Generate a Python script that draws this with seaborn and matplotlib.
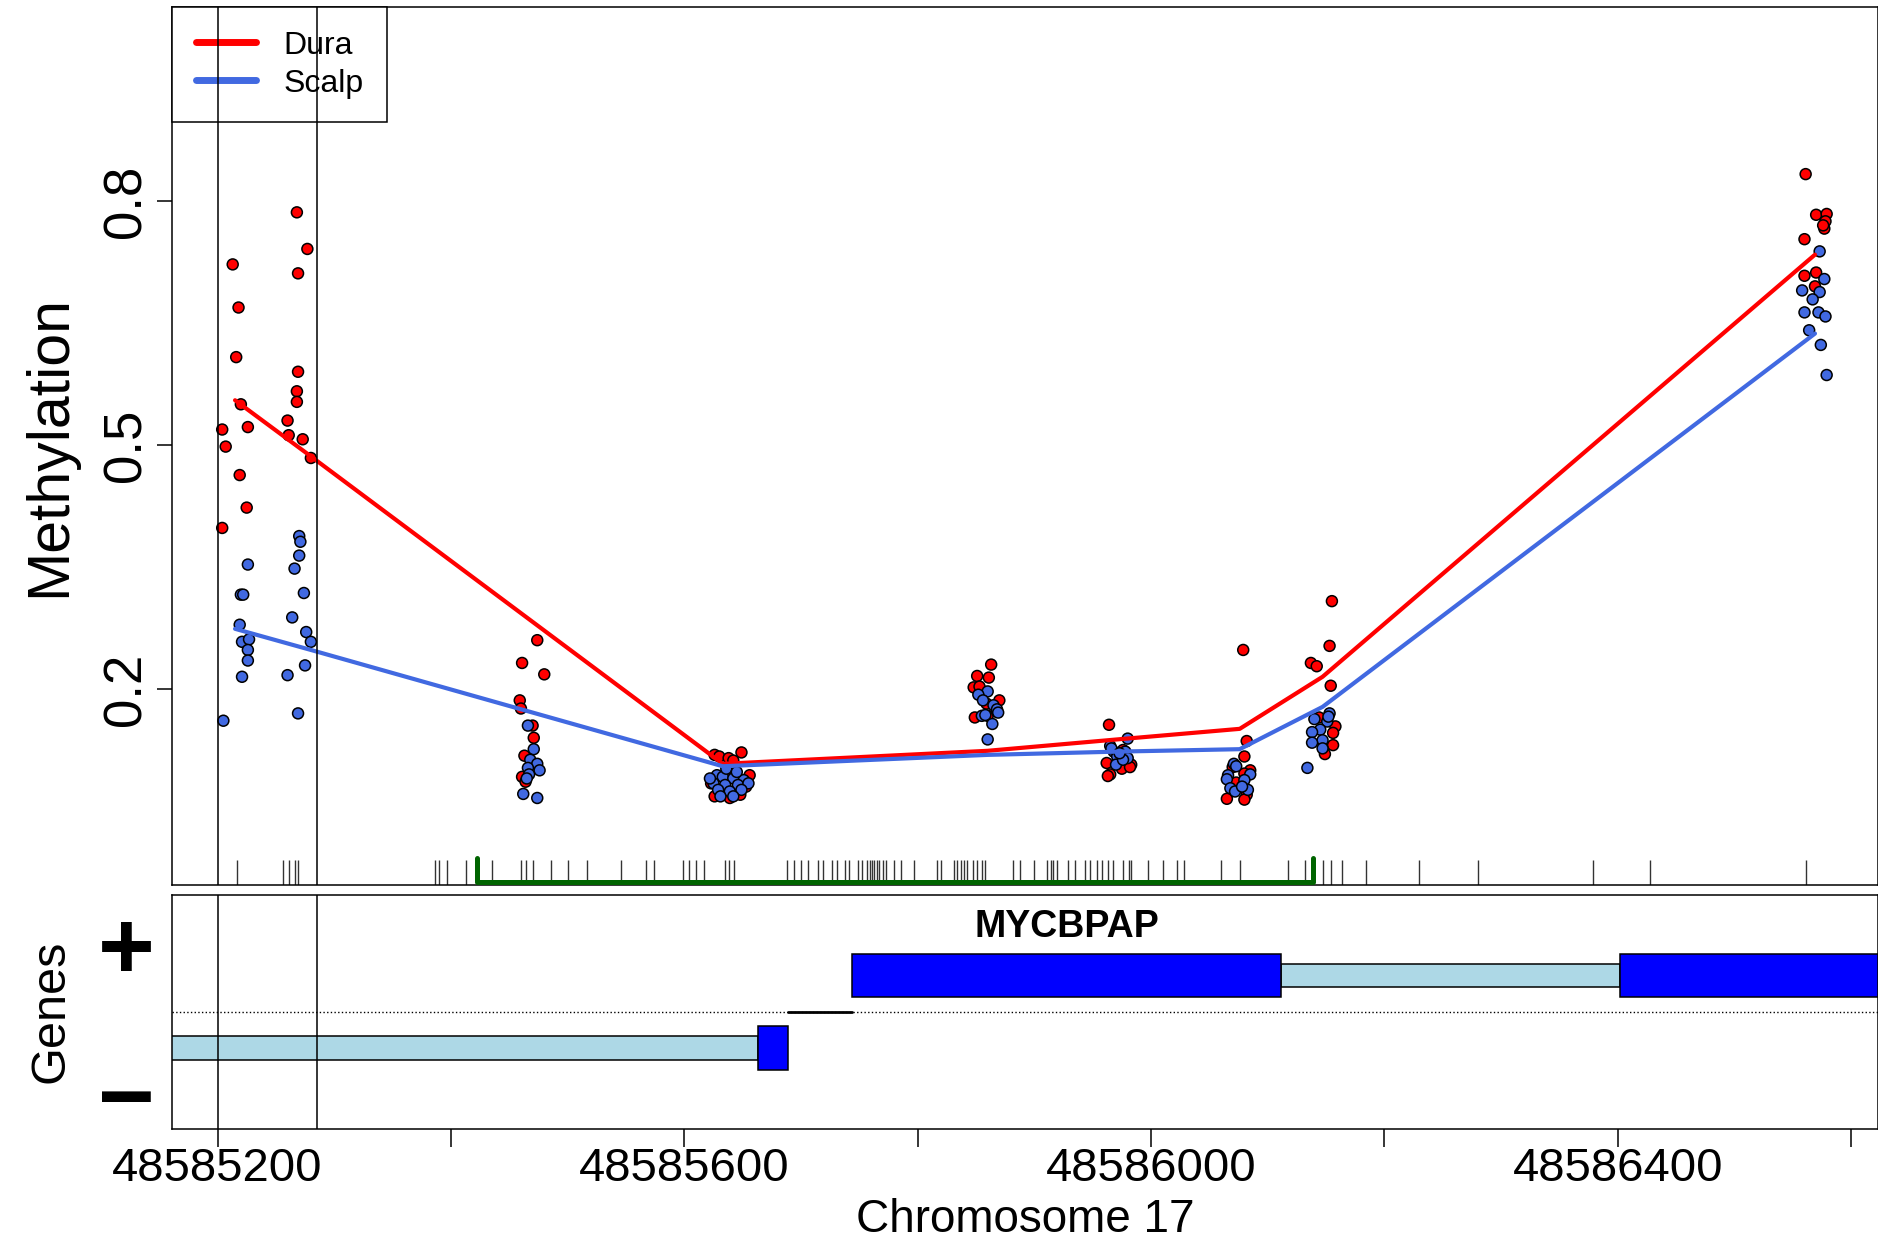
import numpy as np
import pandas as pd
import matplotlib
matplotlib.use("Agg")
from matplotlib import pyplot as plt
from matplotlib import transforms
import seaborn as sns

# positions are given as offsets from this chromosome coordinate
BASE = 48585000

# individual samples (jittered around each CpG)
dura_pos = [213, 218, 216, 220, 204, 226, 207, 219, 225, 204,
            268, 277, 269, 269, 268, 268, 260, 261, 273, 280,
            474, 461, 480, 459, 460, 470, 471, 463, 461, 464,
            626, 630, 638, 649, 642, 656, 636, 623, 645, 632, 648, 653, 626, 639,
            863, 851, 861, 848, 853, 870, 859, 849, 860, 868,
            964, 976, 962, 973, 983, 965, 963, 979, 975, 982,
            1079, 1082, 1080, 1085, 1080, 1073, 1082, 1065, 1080, 1070,
            1155, 1153, 1137, 1142, 1154, 1144, 1158, 1156, 1156, 1149,
            1561, 1570, 1579, 1578, 1577, 1560, 1560, 1570, 1569, 1576]
dura_meth = [0.722, 0.669, 0.608, 0.550, 0.519, 0.522, 0.498, 0.463, 0.423, 0.398,
             0.786, 0.741, 0.711, 0.590, 0.566, 0.553, 0.530, 0.512, 0.507, 0.484,
             0.260, 0.232, 0.218, 0.186, 0.176, 0.155, 0.140, 0.118, 0.092, 0.086,
             0.119, 0.117, 0.115, 0.122, 0.112, 0.094, 0.096, 0.084, 0.076, 0.072, 0.070, 0.080, 0.068, 0.066,
             0.230, 0.216, 0.214, 0.202, 0.203, 0.186, 0.182, 0.165, 0.167, 0.172,
             0.156, 0.125, 0.109, 0.107, 0.107, 0.095, 0.093, 0.109, 0.102, 0.104,
             0.248, 0.136, 0.117, 0.100, 0.096, 0.085, 0.070, 0.065, 0.064, 0.104,
             0.308, 0.253, 0.232, 0.228, 0.204, 0.165, 0.154, 0.146, 0.131, 0.120,
             0.833, 0.783, 0.784, 0.775, 0.766, 0.753, 0.708, 0.712, 0.695, 0.770]

scalp_pos = [226, 220, 222, 219, 221, 227, 226, 226, 221, 205,
             270, 271, 270, 266, 274, 264, 276, 280, 275, 260, 269,
             466, 471, 468, 474, 476, 466, 467, 465, 462, 474,
             628, 633, 642, 651, 625, 635, 646, 655, 629, 639, 649, 631, 642, 636, 645, 622,
             860, 852, 856, 865, 868, 869, 855, 858, 864, 860,
             980, 965, 968, 978, 971, 980, 970, 976, 966, 973,
             1071, 1073, 1066, 1065, 1085, 1080, 1068, 1072, 1083, 1078,
             1153, 1140, 1151, 1145, 1138, 1147, 1138, 1147, 1134, 1152,
             1573, 1577, 1558, 1573, 1567, 1560, 1572, 1578, 1564, 1574, 1579]
scalp_meth = [0.353, 0.316, 0.316, 0.279, 0.258, 0.261, 0.248, 0.235, 0.215, 0.161,
              0.388, 0.381, 0.364, 0.348, 0.318, 0.288, 0.270, 0.258, 0.229, 0.217, 0.170,
              0.155, 0.126, 0.113, 0.108, 0.100, 0.103, 0.095, 0.090, 0.071, 0.066,
              0.094, 0.092, 0.090, 0.088, 0.084, 0.082, 0.082, 0.084, 0.076, 0.074, 0.076, 0.068, 0.068, 0.102, 0.098, 0.090,
              0.197, 0.193, 0.186, 0.180, 0.175, 0.171, 0.167, 0.168, 0.157, 0.138,
              0.139, 0.130, 0.123, 0.123, 0.117, 0.115, 0.107, 0.113, 0.127, 0.121,
              0.108, 0.105, 0.094, 0.089, 0.095, 0.088, 0.078, 0.074, 0.076, 0.080,
              0.170, 0.163, 0.160, 0.150, 0.147, 0.137, 0.134, 0.127, 0.103, 0.166,
              0.738, 0.704, 0.690, 0.688, 0.679, 0.663, 0.663, 0.658, 0.641, 0.623, 0.586]

# group mean lines
line_pos = [215, 280, 633, 860, 971, 1076, 1147, 1569]
dura_line = [0.555, 0.486, 0.108, 0.124, 0.138, 0.151, 0.215, 0.734]
scalp_line = [0.274, 0.248, 0.105, 0.119, 0.123, 0.126, 0.178, 0.637]

# CpG sites (rug)
cpg_pos = [217, 256, 261, 266, 269, 386, 390, 397, 413, 422, 435, 460, 464, 470, 486,
           500, 517, 546, 567, 574, 599, 604, 610, 617, 635, 638, 643, 688, 694, 700,
           706, 715, 719, 727, 731, 738, 741, 749, 752, 757, 759, 761, 763, 765, 767,
           770, 773, 780, 786, 797, 817, 820, 831, 834, 837, 840, 842, 847, 851, 855,
           858, 882, 888, 900, 911, 914, 916, 919, 929, 935, 943, 948, 954, 958, 963,
           967, 976, 981, 983, 997, 1010, 1022, 1028, 1060, 1076, 1117, 1132, 1139, 1147,
           1154, 1164, 1184, 1230, 1280, 1379, 1428, 1561]

dmr_start, dmr_end = 422, 1139
vline_pos = [200, 285]

# gene model
plus_exon_start = [744, 1402]
plus_exon_end = [1111, 1800]
plus_intron_start = [1111]
plus_intron_end = [1402]
minus_exon_start = [663]
minus_exon_end = [689]
minus_intron_start = [-300]
minus_intron_end = [663]
link_start, link_end = 689, 744
gene_name = "MYCBPAP"
gene_label_pos = 928

xlim = (161, 1623)
xtick_pos = [200, 400, 600, 800, 1000, 1200, 1400, 1600]
xtick_labels = ["48585200", "", "48585600", "", "48586000", "", "48586400", ""]
ytick_pos = [0.2, 0.5, 0.8]
ytick_labels = ["0.2", "0.5", "0.8"]

palette = {"Dura": "#FF0000", "Scalp": "#4169E1"}

sns.set_theme(style="ticks")
plt.rcParams['font.family'] = ['Liberation Sans', 'DejaVu Sans']
plt.rcParams['axes.edgecolor'] = 'black'
plt.rcParams['axes.linewidth'] = 1.1
plt.rcParams['xtick.color'] = 'black'
plt.rcParams['ytick.color'] = 'black'
plt.rcParams['text.color'] = 'black'
plt.rcParams['axes.labelcolor'] = 'black'

pts = pd.concat([
    pd.DataFrame({'pos': np.array(dura_pos) + BASE, 'meth': dura_meth, 'tissue': 'Dura'}),
    pd.DataFrame({'pos': np.array(scalp_pos) + BASE, 'meth': scalp_meth, 'tissue': 'Scalp'}),
], ignore_index=True)
lines = pd.concat([
    pd.DataFrame({'pos': np.array(line_pos) + BASE, 'meth': dura_line, 'tissue': 'Dura'}),
    pd.DataFrame({'pos': np.array(line_pos) + BASE, 'meth': scalp_line, 'tissue': 'Scalp'}),
], ignore_index=True)

fig = plt.figure(figsize=(18.78, 12.43), dpi=100)
ax = fig.add_axes([0.0916, 0.288, 0.9084, 0.7064])
axg = fig.add_axes([0.0916, 0.0917, 0.9084, 0.1886])

xl = (xlim[0] + BASE, xlim[1] + BASE)

# --- methylation panel
sns.scatterplot(data=pts, x='pos', y='meth', hue='tissue', palette=palette, s=62,
                edgecolor='black', linewidth=1.1, legend=False, ax=ax, zorder=2)
sns.lineplot(data=lines, x='pos', y='meth', hue='tissue', palette=palette,
             estimator=None, sort=False, lw=3, ax=ax, zorder=3)
sns.rugplot(x=np.array(cpg_pos) + BASE, height=0.029, ax=ax, color='#333333', lw=0.7)

trans = ax.get_xaxis_transform()
ax.plot(np.array([dmr_start, dmr_start, dmr_end, dmr_end]) + BASE, [0.031, 0.004, 0.004, 0.031],
        transform=trans, color='#006400', lw=3.6, solid_capstyle='round', clip_on=False, zorder=4)

h, l = ax.get_legend_handles_labels()
leg = ax.legend(h, l, loc='upper left', borderaxespad=0, fontsize=23, frameon=True,
                fancybox=False, edgecolor='black', framealpha=1, borderpad=0.74,
                labelspacing=0.25, handlelength=1.9, handletextpad=0.85)
leg.get_frame().set_linewidth(1.1)
for ln in leg.get_lines():
    ln.set_linewidth(5)

ax.set_xlim(xl)
ax.set_ylim(-0.041, 1.0385)
ax.set_xticks([])
ax.set_xlabel('')
ax.set_yticks(ytick_pos)
ax.set_yticklabels(ytick_labels, rotation=90, va='center')
ax.tick_params(axis='y', length=11, width=1.1, pad=4, labelsize=38)
ax.set_ylabel('Methylation', fontsize=42.5, va='center')
ax.yaxis.set_label_coords(-0.0715, 0.5)

# --- gene panel
gy = 0.31
axg.barh(y=gy, width=np.subtract(plus_intron_end, plus_intron_start), left=np.array(plus_intron_start) + BASE,
         height=0.19, color='lightblue', edgecolor='black', lw=1.1)
axg.barh(y=gy, width=np.subtract(plus_exon_end, plus_exon_start), left=np.array(plus_exon_start) + BASE,
         height=0.37, color='blue', edgecolor='black', lw=1.1)
axg.barh(y=-gy, width=np.subtract(minus_intron_end, minus_intron_start), left=np.array(minus_intron_start) + BASE,
         height=0.2, color='lightblue', edgecolor='black', lw=1.1)
axg.barh(y=-gy, width=np.subtract(minus_exon_end, minus_exon_start), left=np.array(minus_exon_start) + BASE,
         height=0.38, color='blue', edgecolor='black', lw=1.1)
axg.axhline(0, color='black', ls=':', lw=1)
axg.plot([link_start + BASE, link_end + BASE], [0, 0], color='black', lw=2)
axg.text(gene_label_pos + BASE, 0.72, gene_name, fontsize=27, fontweight='bold',
         ha='center', va='center')

gtrans = transforms.blended_transform_factory(axg.transAxes, axg.transData)
axg.text(-0.027, 0.49, '+', transform=gtrans, fontsize=70, fontweight='bold', ha='center', va='center')
axg.text(-0.027, -0.785, '\u2212', transform=gtrans, fontsize=70, fontweight='bold', ha='center', va='center')

axg.set_xlim(xl)
axg.set_ylim(-1, 1)
axg.set_yticks([])
axg.set_xticks(np.array(xtick_pos) + BASE)
axg.set_xticklabels(xtick_labels)
axg.tick_params(axis='x', length=13, width=1.1, pad=0, labelsize=34)
axg.set_ylabel('Genes', fontsize=35, va='center')
axg.yaxis.set_label_coords(-0.071, 0.5)
axg.set_xlabel('Chromosome 17', fontsize=33, va='center')
axg.xaxis.set_label_coords(0.5, -0.39)

for v in vline_pos:
    ax.axvline(v + BASE, color='black', lw=1.1, zorder=6)
    axg.axvline(v + BASE, color='black', lw=1.1, zorder=6)

fig.savefig('out.png', dpi=100)
